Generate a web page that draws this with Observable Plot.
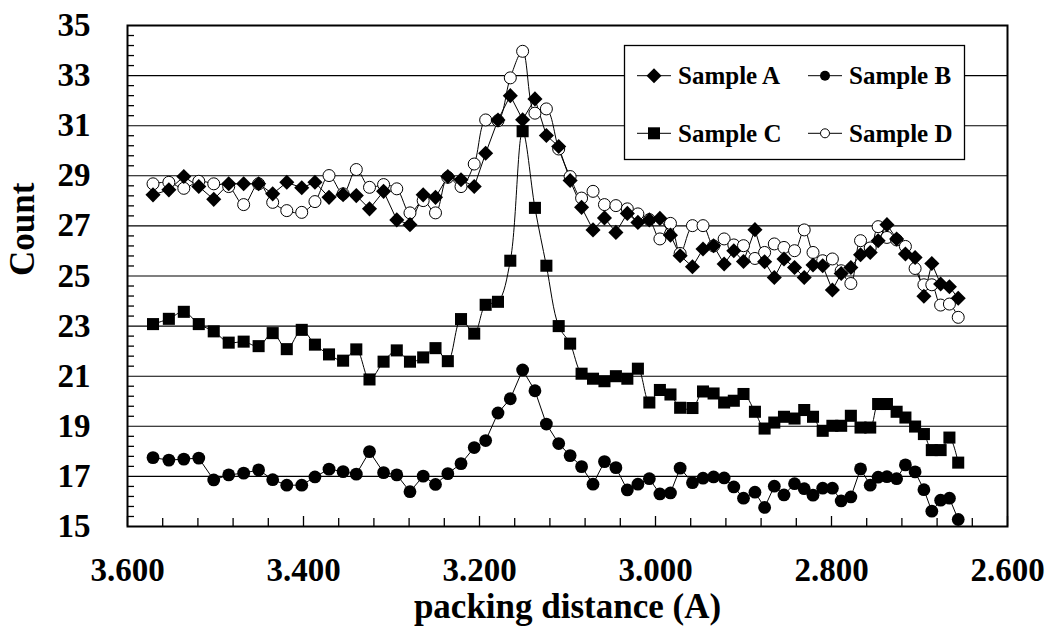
<!DOCTYPE html>
<html>
<head>
<meta charset="utf-8">
<script src="https://cdn.jsdelivr.net/npm/d3@7"></script>
<script src="https://cdn.jsdelivr.net/npm/@observablehq/plot@0.6"></script>
<style>
  html, body { margin: 0; padding: 0; background: #fff; }
  #wrap { position: relative; width: 1046px; height: 638px; overflow: hidden; }
  #legend { position: absolute; left: 0; top: 0; pointer-events: none; }
</style>
</head>
<body>
<div id="wrap"></div>
<script>
// ---- data ----
const packingDistance = [3.571, 3.553, 3.536, 3.519, 3.502, 3.485, 3.468, 3.451, 3.435, 3.419,
  3.402, 3.387, 3.371, 3.355, 3.340, 3.325, 3.309, 3.294, 3.279, 3.264,
  3.250, 3.236, 3.221, 3.206, 3.193, 3.179, 3.165, 3.151, 3.137, 3.124,
  3.110, 3.097, 3.084, 3.071, 3.058, 3.045, 3.032, 3.020, 3.007, 2.995,
  2.983, 2.972, 2.958, 2.946, 2.934, 2.922, 2.911, 2.900, 2.887, 2.876,
  2.865, 2.854, 2.842, 2.831, 2.821, 2.810, 2.799, 2.789, 2.778, 2.767,
  2.756, 2.747, 2.737, 2.726, 2.716, 2.705, 2.695, 2.686, 2.676, 2.666, 2.656];

const sampleA = [28.24, 28.44, 28.97, 28.57, 28.06, 28.68, 28.68, 28.68, 28.28, 28.74,
  28.52, 28.74, 28.14, 28.25, 28.21, 27.68, 28.38, 27.24, 27.05, 28.24,
  28.14, 28.97, 28.84, 28.57, 29.90, 31.23, 32.20, 31.24, 32.07, 30.61,
  30.17, 28.81, 27.74, 26.84, 27.32, 26.74, 27.50, 27.14, 27.24, 27.30,
  26.63, 25.81, 25.37, 26.08, 26.21, 25.48, 26.01, 25.58, 26.85, 25.57,
  24.94, 25.68, 25.34, 24.94, 25.44, 25.41, 24.44, 25.10, 25.34, 25.85,
  25.94, 26.41, 27.05, 26.48, 25.88, 25.74, 24.19, 25.50, 24.68, 24.57, 24.11];

const sampleB = [17.75, 17.65, 17.69, 17.73, 16.86, 17.06, 17.13, 17.26, 16.87, 16.65,
  16.65, 16.98, 17.29, 17.19, 17.09, 17.99, 17.15, 17.06, 16.39, 17.01,
  16.68, 17.11, 17.51, 18.15, 18.43, 19.53, 20.10, 21.25, 20.42, 19.09,
  18.31, 17.83, 17.39, 16.69, 17.59, 17.35, 16.46, 16.69, 16.91, 16.30,
  16.34, 17.33, 16.75, 16.93, 16.98, 16.94, 16.58, 16.13, 16.37, 15.76,
  16.61, 16.26, 16.71, 16.51, 16.25, 16.53, 16.53, 16.02, 16.18, 17.30,
  16.65, 16.97, 16.99, 16.91, 17.46, 17.18, 16.47, 15.61, 16.05, 16.13, 15.28];

const sampleC = [23.08, 23.29, 23.57, 23.08, 22.79, 22.34, 22.38, 22.20, 22.72, 22.08,
  22.85, 22.26, 21.87, 21.62, 22.07, 20.87, 21.58, 22.03, 21.58, 21.75,
  22.12, 21.60, 23.28, 22.70, 23.85, 23.97, 25.61, 30.78, 27.72, 25.41,
  23.00, 22.30, 21.10, 20.90, 20.80, 21.00, 20.90, 21.30, 19.95, 20.45,
  20.27, 19.74, 19.73, 20.39, 20.31, 19.95, 20.02, 20.29, 19.58, 18.91,
  19.15, 19.38, 19.31, 19.65, 19.38, 18.82, 19.02, 19.02, 19.42, 18.95,
  18.95, 19.89, 19.89, 19.58, 19.35, 18.99, 18.69, 18.05, 18.05, 18.55, 17.55];

const sampleD = [28.68, 28.74, 28.50, 28.78, 28.68, 28.57, 27.85, 28.68, 27.94, 27.61,
  27.54, 27.97, 29.01, 28.28, 29.25, 28.54, 28.65, 28.48, 27.52, 28.01,
  27.52, 28.94, 28.57, 29.47, 31.23, 31.20, 32.91, 33.97, 31.50, 31.67,
  30.07, 28.97, 28.11, 28.38, 27.85, 27.81, 27.68, 27.48, 27.25, 26.48,
  27.10, 25.90, 27.01, 27.01, 26.20, 26.48, 26.24, 26.21, 25.70, 25.94,
  26.28, 26.14, 26.01, 26.84, 25.94, 25.61, 25.68, 25.21, 24.70, 26.41,
  26.12, 26.97, 26.54, 26.44, 26.18, 25.30, 24.65, 24.65, 23.84, 23.88, 23.35];

const seriesNames = ["Sample A", "Sample B", "Sample C", "Sample D"];
const xTicks = [3.6, 3.4, 3.2, 3.0, 2.8, 2.6];
const xMinorTicks = [3.56, 3.52, 3.48, 3.44, 3.36, 3.32, 3.28, 3.24, 3.16, 3.12, 3.08, 3.04,
  2.96, 2.92, 2.88, 2.84, 2.76, 2.72, 2.68, 2.64];
const yTicks = [15, 17, 19, 21, 23, 25, 27, 29, 31, 33, 35];
const yGrid = [17, 19, 21, 23, 25, 27, 29, 31, 33];
const yMinorTicks = [15.4, 15.8, 16.2, 16.6, 17.4, 17.8, 18.2, 18.6, 19.4, 19.8, 20.2, 20.6,
  21.4, 21.8, 22.2, 22.6, 23.4, 23.8, 24.2, 24.6, 25.4, 25.8, 26.2, 26.6, 27.4, 27.8, 28.2, 28.6,
  29.4, 29.8, 30.2, 30.6, 31.4, 31.8, 32.2, 32.6, 33.4, 33.8, 34.2, 34.6];
const xTitle = "packing distance (A)";
const yTitle = "Count";

// ---- table ----
const rows = packingDistance.map((x, i) => ({x, A: sampleA[i], B: sampleB[i], C: sampleC[i], D: sampleD[i]}));

const W = 1046, H = 638;
const mL = 127, mR = 39, mT = 25, mB = 112;
const fw = W - mL - mR, fh = H - mT - mB;
const serif = "'Liberation Serif', 'Times New Roman', Times, serif";
const FS = 33;   // tick labels
const FT = 35;   // axis titles

const chart = Plot.plot({
  width: W, height: H,
  marginLeft: mL, marginRight: mR, marginTop: mT, marginBottom: mB,
  style: {fontFamily: serif, fontWeight: "bold", fontSize: FS + "px", background: "white", color: "black", overflow: "visible"},
  x: {domain: [3.6, 2.6]},
  y: {domain: [15, 35]},
  marks: [
    Plot.ruleY(yGrid, {y: d => d, stroke: "black", strokeWidth: 1.1}),
    Plot.ruleX(xMinorTicks, {x: d => d, insetTop: fh - 8, stroke: "black", strokeWidth: 1.3}),
    Plot.ruleX(xTicks, {x: d => d, insetTop: fh - 10, stroke: "black", strokeWidth: 1.3}),
    Plot.ruleY(yMinorTicks, {y: d => d, insetRight: fw - 7, stroke: "black", strokeWidth: 1.3}),
    Plot.frame({stroke: "black", strokeWidth: 2}),
    Plot.axisX({ticks: xTicks, tickSize: 0, tickPadding: 31, tickFormat: d3.format(".3f"), label: null, fontSize: FS, fontWeight: "bold"}),
    Plot.axisY({ticks: yTicks, tickSize: 0, tickPadding: 37, label: null, fontSize: FS, fontWeight: "bold"}),
    Plot.text([xTitle], {text: d => d, frameAnchor: "bottom", dy: 91, fontSize: FT, fontWeight: "bold"}),
    Plot.text([yTitle], {text: d => d, frameAnchor: "left", dx: -105, rotate: -90, fontSize: FT, fontWeight: "bold"}),
    // lines
    Plot.line(rows, {x: "x", y: "D", stroke: "black", strokeWidth: 1, curve: "catmull-rom"}),
    Plot.line(rows, {x: "x", y: "A", stroke: "black", strokeWidth: 1}),
    Plot.line(rows, {x: "x", y: "B", stroke: "black", strokeWidth: 1}),
    Plot.line(rows, {x: "x", y: "C", stroke: "black", strokeWidth: 1, curve: "catmull-rom"}),
    // markers
    Plot.dot(rows, {x: "x", y: "D", r: 6, fill: "white", stroke: "black", strokeWidth: 1}),
    Plot.dot(rows, {x: "x", y: "A", symbol: "diamond2", r: 6.8, fill: "black", stroke: "none"}),
    Plot.dot(rows, {x: "x", y: "B", r: 6.4, fill: "black", stroke: "none"}),
    Plot.dot(rows, {x: "x", y: "C", symbol: "square", r: 6.8, fill: "black", stroke: "none"})
  ]
});
document.getElementById("wrap").appendChild(chart);

// ---- legend (layout overlay) ----
const lg = d3.select("#wrap").append("svg").attr("id", "legend").attr("width", W).attr("height", H);
const box = {x: 624.5, y: 45.5, w: 340, h: 114};
lg.append("rect").attr("x", box.x).attr("y", box.y).attr("width", box.w).attr("height", box.h)
  .attr("fill", "white").attr("stroke", "black").attr("stroke-width", 1.3);
const items = [
  {name: seriesNames[0], col: 0, row: 0, sym: "diamond"},
  {name: seriesNames[1], col: 1, row: 0, sym: "dot"},
  {name: seriesNames[2], col: 0, row: 1, sym: "square"},
  {name: seriesNames[3], col: 1, row: 1, sym: "circle"}
];
const colX = [637, 808], rowY = [75.7, 133.3];
for (const it of items) {
  const x0 = colX[it.col], y0 = rowY[it.row], cx = x0 + 17;
  const g = lg.append("g");
  g.append("line").attr("x1", x0).attr("x2", x0 + 34).attr("y1", y0).attr("y2", y0).attr("stroke", "black").attr("stroke-width", 1);
  if (it.sym === "diamond") g.append("path").attr("d", `M${cx},${y0 - 7.5}L${cx + 7.5},${y0}L${cx},${y0 + 7.5}L${cx - 7.5},${y0}Z`).attr("fill", "black");
  if (it.sym === "square") g.append("rect").attr("x", cx - 6).attr("y", y0 - 6).attr("width", 12).attr("height", 12).attr("fill", "black");
  if (it.sym === "dot") g.append("circle").attr("cx", cx).attr("cy", y0).attr("r", 5).attr("fill", "black");
  if (it.sym === "circle") g.append("circle").attr("cx", cx).attr("cy", y0).attr("r", 4.5).attr("fill", "white").attr("stroke", "black").attr("stroke-width", 1);
  g.append("text").attr("x", x0 + 41).attr("y", y0).attr("dy", "0.35em")
    .attr("font-family", serif).attr("font-weight", "bold").attr("font-size", 25).attr("fill", "black")
    .text(it.name);
}
</script>
</body>
</html>
